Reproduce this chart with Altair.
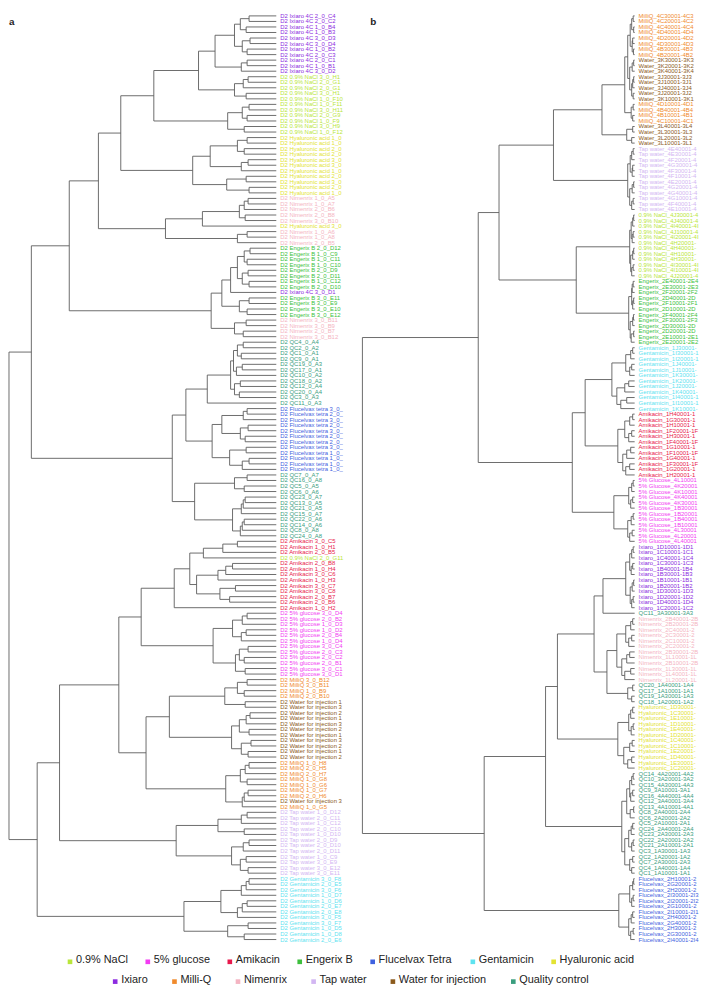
import re
import pandas as pd
import altair as alt

# ---------------- groups / colours ----------------
GROUPS = ["0.9% NaCl", "5% glucose", "Amikacin", "Engerix B", "Flucelvax Tetra",
          "Gentamicin", "Hyaluronic acid", "Ixiaro", "Milli-Q", "Nimenrix",
          "Tap water", "Water for injection", "Quality control"]
COLORS = ["#b9e63a", "#f23cf2", "#e8194c", "#3dbf3d", "#3f62e0",
          "#5ee3f0", "#e3e332", "#8c2be0", "#f08a2c", "#f4b4c2",
          "#d2b6f2", "#8b5a1c", "#3a9e7e"]
LEGEND_ROW1 = GROUPS[:7]
LEGEND_ROW2 = GROUPS[7:]

KEYWORDS = [("Tap water", "Tap water"), ("Water", "Water for injection"), ("MilliQ", "Milli-Q"),
            ("NaCl", "0.9% NaCl"), ("lucose", "5% glucose"), ("Amikacin", "Amikacin"),
            ("Engerix", "Engerix B"), ("Flucelvax", "Flucelvax Tetra"), ("Gentamicin", "Gentamicin"),
            ("Hyaluronic", "Hyaluronic acid"), ("Ixiaro", "Ixiaro"), ("Nimenrix", "Nimenrix"),
            ("QC", "Quality control")]

# ---------------- panel a : leaf labels (top to bottom) ----------------
left_labels = [
    "D2 Ixiaro 4C 2_0_C4", "D2 Ixiaro 4C 2_0_C2", "D2 Ixiaro 4C 1_0_B4", "D2 Ixiaro 4C 1_0_B3",
    "D2 Ixiaro 4C 3_0_D3", "D2 Ixiaro 4C 3_0_D4", "D2 Ixiaro 4C 1_0_B2", "D2 Ixiaro 4C 2_0_C3",
    "D2 Ixiaro 4C 2_0_C1", "D2 Ixiaro 4C 1_0_B1", "D2 Ixiaro 4C 3_0_D2",
    "D2 0.9% NaCl 3_0_H12", "D2 0.9% NaCl 2_0_G12", "D2 0.9% NaCl 2_0_G10", "D2 0.9% NaCl 3_0_H10",
    "D2 0.9% NaCl 1_0_F10", "D2 0.9% NaCl 1_0_F11", "D2 0.9% NaCl 3_0_H11", "D2 0.9% NaCl 2_0_G9",
    "D2 0.9% NaCl 1_0_F9", "D2 0.9% NaCl 3_0_H9", "D2 0.9% NaCl 1_0_F12",
    "D2 Hyaluronic acid 1_0_E1", "D2 Hyaluronic acid 1_0_E3", "D2 Hyaluronic acid 2_0_F2",
    "D2 Hyaluronic acid 2_0_F4", "D2 Hyaluronic acid 3_0_G1", "D2 Hyaluronic acid 3_0_G2",
    "D2 Hyaluronic acid 1_0_E2", "D2 Hyaluronic acid 2_0_F1", "D2 Hyaluronic acid 3_0_G4",
    "D2 Hyaluronic acid 2_0_F3", "D2 Hyaluronic acid 1_0_E4",
    "D2 Nimenrix 1_0_A5", "D2 Nimenrix 1_0_A7", "D2 Nimenrix 2_0_B6", "D2 Nimenrix 2_0_B8",
    "D2 Nimenrix 3_0_B10",
    "D2 Hyaluronic acid 3_0_G3",
    "D2 Nimenrix 1_0_A6", "D2 Nimenrix 1_0_A8", "D2 Nimenrix 2_0_B5",
    "D2 Engerix B 2_0_D12", "D2 Engerix B 1_0_C9", "D2 Engerix B 1_0_C11", "D2 Engerix B 1_0_C10",
    "D2 Engerix B 2_0_D9", "D2 Engerix B 2_0_D11", "D2 Engerix B 1_0_C12", "D2 Engerix B 2_0_D10",
    "D2 Ixiaro 4C 3_0_D1",
    "D2 Engerix B 3_0_E11", "D2 Engerix B 3_0_E9", "D2 Engerix B 3_0_E10", "D2 Engerix B 3_0_E12",
    "D2 Nimenrix 3_0_B11", "D2 Nimenrix 3_0_B9", "D2 Nimenrix 2_0_B7", "D2 Nimenrix 3_0_B12",
    "D2 QC4_0_A4", "D2 QC2_0_A2", "D2 QC1_0_A1", "D2 QC9_0_A1", "D2 QC19_0_A3", "D2 QC17_0_A1",
    "D2 QC10_0_A2", "D2 QC18_0_A2", "D2 QC12_0_A4", "D2 QC20_0_A4", "D2 QC3_0_A3", "D2 QC11_0_A3",
    "D2 Flucelvax tetra 3_0_C2", "D2 Flucelvax tetra 2_0_B3", "D2 Flucelvax tetra 3_0_C4",
    "D2 Flucelvax tetra 2_0_B1", "D2 Flucelvax tetra 3_0_C1", "D2 Flucelvax tetra 2_0_B4",
    "D2 Flucelvax tetra 2_0_B2", "D2 Flucelvax tetra 3_0_C3", "D2 Flucelvax tetra 1_0_A2",
    "D2 Flucelvax tetra 1_0_A4", "D2 Flucelvax tetra 1_0_A1", "D2 Flucelvax tetra 1_0_A3",
    "D2 QC7_0_A7", "D2 QC16_0_A8", "D2 QC5_0_A5", "D2 QC6_0_A6", "D2 QC23_0_A7", "D2 QC13_0_A5",
    "D2 QC21_0_A5", "D2 QC15_0_A7", "D2 QC22_0_A6", "D2 QC14_0_A6", "D2 QC8_0_A8", "D2 QC24_0_A8",
    "D2 Amikacin 3_0_C5", "D2 Amikacin 1_0_H1", "D2 Amikacin 2_0_B5", "D2 0.9% NaCl 2_0_G11",
    "D2 Amikacin 2_0_B8", "D2 Amikacin 1_0_H4", "D2 Amikacin 3_0_C6", "D2 Amikacin 1_0_H3",
    "D2 Amikacin 3_0_C7", "D2 Amikacin 3_0_C8", "D2 Amikacin 2_0_B7", "D2 Amikacin 2_0_B6",
    "D2 Amikacin 1_0_H2",
    "D2 5% glucose 3_0_D4", "D2 5% glucose 2_0_B2", "D2 5% glucose 1_0_D3", "D2 5% glucose 1_0_D2",
    "D2 5% glucose 2_0_B4", "D2 5% glucose 1_0_D4", "D2 5% glucose 3_0_C4", "D2 5% glucose 2_0_C3",
    "D2 5% glucose 2_0_C2", "D2 5% glucose 2_0_B1", "D2 5% glucose 3_0_C1", "D2 5% glucose 3_0_D1",
    "D2 MilliQ 3_0_B12", "D2 MilliQ 3_0_B11", "D2 MilliQ 1_0_B9", "D2 MilliQ 2_0_B10",
    "D2 Water for injection 1", "D2 Water for injection 3",
    "D2 Water for injection 2", "D2 Water for injection 1", "D2 Water for injection 3",
    "D2 Water for injection 2", "D2 Water for injection 1", "D2 Water for injection 3",
    "D2 Water for injection 2", "D2 Water for injection 1", "D2 Water for injection 2",
    "D2 MilliQ 1_0_H8", "D2 MilliQ 2_0_H5", "D2 MilliQ 2_0_H7", "D2 MilliQ 1_0_G8",
    "D2 MilliQ 1_0_G6", "D2 MilliQ 1_0_G7", "D2 MilliQ 2_0_H6", "D2 Water for injection 3",
    "D2 MilliQ 1_0_G5",
    "D2 Tap water 1_0_D12", "D2 Tap water 2_0_C11", "D2 Tap water 1_0_C12", "D2 Tap water 2_0_C10",
    "D2 Tap water 1_0_D10", "D2 Tap water 2_0_D9", "D2 Tap water 2_0_D10", "D2 Tap water 2_0_D11",
    "D2 Tap water 1_0_C9", "D2 Tap water 3_0_E9", "D2 Tap water 3_0_E12", "D2 Tap water 3_0_E11",
    "D2 Gentamicin 3_0_F8", "D2 Gentamicin 2_0_E5", "D2 Gentamicin 3_0_F6", "D2 Gentamicin 1_0_D7",
    "D2 Gentamicin 1_0_D6", "D2 Gentamicin 2_0_E7", "D2 Gentamicin 2_0_E8", "D2 Gentamicin 3_0_F5",
    "D2 Gentamicin 3_0_F7", "D2 Gentamicin 1_0_D5", "D2 Gentamicin 1_0_D8", "D2 Gentamicin 2_0_E6",
]

# panel a merge heights (leaves "." in label order, "(...)h" = merge at height h)
a_ix = "((((.,.)28,(.,.)31)37,((.,.)27,(.,.)30)35)43,((.,.)30,.)36)63"
a_nacl1 = "(((.,.)29,.)34,(.,.)31)43"
a_nacl2 = "(((.,.)28,(.,.)30)35,(.,.)33)50"
a_hya = "((((.,.)30,(.,.)33)40,((.,.)29,.)36)68,((.,.)31,(.,.)28)51)86"
a_nimtop = "(((((.,.)29,.)33,(.,.)32)38,.)76,((.,.)30,.)40)114"
a_eng = "(((((.,.)27,(.,.)30)33,((.,.)29,(.,.)28)35)40,.)47,((.,.)28,(.,.)30)38)56"
a_nim2 = "((.,.)31,(.,.)34)43"
a_qc1 = "(((((.,.)34,(.,.)36)40,((.,.)35,.)41)44,((.,.)37,(.,.)38)43)47,.)71"
a_flu = "((((.,.)30,.)34,((.,.)29,(.,.)32)37)56,((.,.)31,((.,.)28,.)35)48)66"
a_qc2 = "(((.,.)30,(.,.)33)43,((((.,.)32,.)34,.)36,(((.,.)33,.)35,.)37)45)84"
a_ami = "(((((.,.)40,.)55,.)75,((((.,.)45,.)52,.)60,((.,.)42,(.,.)48)58)82)89,.)105"
a_glu = "((((.,.)30,.)35,((.,.)31,.)36)45,(((.,.)29,(.,.)33)38,(.,.)32)42)65"
a_mw = "(((.,.)30,(.,.)33)40,(.,.)32)53"
a_wfi = "((((.,.)27,.)31,(.,.)28)38,((.,.)26,(.,.)29)36)46"
a_mq = "((((.,.)28,.)32,(.,.)30)37,(((.,.)29,.)33,.)35)52"
a_tap = "((((.,.)30,.)36,(.,.)33)60,(((.,.)28,.)34,((.,.)31,(.,.)29)37)46)103"
a_gen = "(((((.,.)28,.)31,.)36,(((.,.)30,.)35,.)40)57,((.,.)29,(.,.)33)50)95"


def join(h, *kids):
    return "(" + ",".join(kids) + ")" + str(h)


left_tree = join(275,
    join(252,
        join(213,
            join(183,
                join(160, join(126, join(80, a_ix, a_nacl1), a_nacl2), a_hya),
                a_nimtop),
            join(67, a_eng, a_nim2)),
        join(107, join(93, a_qc1, a_flu), a_qc2)),
    join(246,
        join(223,
            join(162, join(139, a_ami, a_glu), join(134, join(110, a_mw, a_wfi), a_mq)),
            a_tap),
        a_gen))

# ---------------- panel b : leaf labels ----------------
right_labels = [
    "MilliQ_4C30001-4C3", "MilliQ_4C20001-4C2", "MilliQ_4C40001-4C4", "MilliQ_4D40001-4D4",
    "MilliQ_4D20001-4D2", "MilliQ_4D30001-4D3", "MilliQ_4B30001-4B3", "MilliQ_4B20001-4B2",
    "Water_3K30001-3K3", "Water_3K20001-3K2", "Water_3K40001-3K4", "Water_3J30001-3J3",
    "Water_3J10001-3J1", "Water_3J40001-3J4", "Water_3J20001-3J2", "Water_3K10001-3K1",
    "MilliQ_4D10001-4D1", "MilliQ_4B40001-4B4", "MilliQ_4B10001-4B1", "MilliQ_4C10001-4C1",
    "Water_3L40001-3L4", "Water_3L30001-3L3", "Water_3L20001-3L2", "Water_3L10001-3L1",
    "Tap water_4E40001-4E4", "Tap water_4E30001-4E3", "Tap water_4F20001-4F2", "Tap water_4G30001-4G3",
    "Tap water_4F30001-4F3", "Tap water_4F10001-4F1", "Tap water_4E20001-4E2", "Tap water_4G20001-4G2",
    "Tap water_4G40001-4G4", "Tap water_4G10001-4G1", "Tap water_4F40001-4F4", "Tap water_4E10001-4E1",
    "0.9% NaCl_4J30001-4J3", "0.9% NaCl_4J40001-4J4", "0.9% NaCl_4I40001-4I4", "0.9% NaCl_4J10001-4J1",
    "0.9% NaCl_4I20001-4I2", "0.9% NaCl_4H20001-4H2", "0.9% NaCl_4H40001-4H4", "0.9% NaCl_4H10001-4H1",
    "0.9% NaCl_4H30001-4H3", "0.9% NaCl_4I30001-4I3", "0.9% NaCl_4I10001-4I1", "0.9% NaCl_4J20001-4J2",
    "Engerix_2E40001-2E4", "Engerix_2E30001-2E3", "Engerix_2F20001-2F2", "Engerix_2D40001-2D4",
    "Engerix_2F10001-2F1", "Engerix_2D10001-2D1", "Engerix_2F40001-2F4", "Engerix_2F30001-2F3",
    "Engerix_2D30001-2D3", "Engerix_2D20001-2D2", "Engerix_2E10001-2E1", "Engerix_2E20001-2E2",
    "Gentamicin_1J30001-1J3", "Gentamicin_1I30001-1I3", "Gentamicin_1I20001-1I2", "Gentamicin_1J40001-1J4",
    "Gentamicin_1J10001-1J1", "Gentamicin_1K30001-1K3", "Gentamicin_1K20001-1K2", "Gentamicin_1J20001-1J2",
    "Gentamicin_1K40001-1K4", "Gentamicin_1I40001-1I4", "Gentamicin_1I10001-1I1", "Gentamicin_1K10001-1K1",
    "Amikacin_1H40001-1H4", "Amikacin_1G30001-1G3", "Amikacin_1H10001-1H1", "Amikacin_1F20001-1F2",
    "Amikacin_1H30001-1H3", "Amikacin_1F40001-1F4", "Amikacin_1G10001-1G1", "Amikacin_1F10001-1F1",
    "Amikacin_1G40001-1G4", "Amikacin_1F30001-1F3", "Amikacin_1G20001-1G2", "Amikacin_1H20001-1H2",
    "5% Glucose_4L10001-4L1", "5% Glucose_4K20001-4K2", "5% Glucose_4K10001-4K1", "5% Glucose_4K40001-4K4",
    "5% Glucose_4K30001-4K3", "5% Glucose_1B30001-1B3", "5% Glucose_1B20001-1B2", "5% Glucose_1B40001-1B4",
    "5% Glucose_1B10001-1B1", "5% Glucose_4L30001-4L3", "5% Glucose_4L20001-4L2", "5% Glucose_4L40001-4L4",
    "Ixiaro_1D10001-1D1", "Ixiaro_1C10001-1C1", "Ixiaro_1C40001-1C4", "Ixiaro_1C30001-1C3",
    "Ixiaro_1B40001-1B4", "Ixiaro_1B30001-1B3", "Ixiaro_1B10001-1B1", "Ixiaro_1B20001-1B2",
    "Ixiaro_1D30001-1D3", "Ixiaro_1D20001-1D2", "Ixiaro_1D40001-1D4", "Ixiaro_1C20001-1C2",
    "QC11_3A30001-3A3",
    "Nimenrix_2B40001-2B4", "Nimenrix_2B20001-2B2", "Nimenrix_2C40001-2C4", "Nimenrix_2C30001-2C3",
    "Nimenrix_2C10001-2C1", "Nimenrix_2C20001-2C2", "Nimenrix_2B30001-2B3", "Nimenrix_1L10001-1L1",
    "Nimenrix_2B10001-2B1", "Nimenrix_1L30001-1L3", "Nimenrix_1L40001-1L4", "Nimenrix_1L20001-1L2",
    "QC20_1A40001-1A4", "QC17_1A10001-1A1", "QC19_1A30001-1A3", "QC18_1A20001-1A2",
    "Hyaluronic_1D30001-1D3", "Hyaluronic_1C30001-1C3", "Hyaluronic_1E10001-1E1", "Hyaluronic_1D10001-1D1",
    "Hyaluronic_1E40001-1E4", "Hyaluronic_1D20001-1D2", "Hyaluronic_1C40001-1C4", "Hyaluronic_1C10001-1C1",
    "Hyaluronic_1E20001-1E2", "Hyaluronic_1D40001-1D4", "Hyaluronic_1E30001-1E3", "Hyaluronic_1C20001-1C2",
    "QC14_4A20001-4A2", "QC10_3A20001-3A2", "QC15_4A30001-4A3", "QC9_3A10001-3A1", "QC16_4A40001-4A4",
    "QC12_3A40001-3A4", "QC13_4A10001-4A1", "QC8_2A40001-2A4", "QC6_2A20001-2A2", "QC5_2A10001-2A1",
    "QC24_2A40001-2A4", "QC23_2A30001-2A3", "QC22_2A20001-2A2", "QC21_2A10001-2A1", "QC3_1A30001-1A3",
    "QC2_1A20001-1A2", "QC7_2A30001-2A3", "QC4_1A40001-1A4", "QC1_1A10001-1A1",
    "Flucelvax_2H10001-2H1", "Flucelvax_2G20001-2G2", "Flucelvax_2H20001-2H2", "Flucelvax_2I30001-2I3",
    "Flucelvax_2I20001-2I2", "Flucelvax_2G10001-2G1", "Flucelvax_2I10001-2I1", "Flucelvax_2H40001-2H4",
    "Flucelvax_2G40001-2G4", "Flucelvax_2H30001-2H3", "Flucelvax_2G30001-2G3", "Flucelvax_2I40001-2I4",
]

b_mq8 = "(((.,.)1.5,(.,.)1)3,((.,.)2,(.,.)1.2)2.5)4.5"
b_w8 = "(((.,.)1,.)2.5,(((.,.)1,.)2,(.,.)1.5)3)5"
b_mq4 = "((.,.)1.5,(.,.)2)3.5"
b_w4 = "((.,.)2,(.,.)3)8"
b_tap = "((((.,.)1.5,.)3,((.,.)2,.)2.5)4.5,(((.,.)1,.)2.5,((.,.)1.5,.)3)5)7"
b_nacl = "((((.,.)1,.)2,((.,.)1.5,.)2.5)3.5,(((.,.)1,.)2,((.,.)1.5,.)3)4)5"
b_eng = "((((.,.)1.5,.)2.5,((.,.)1,.)2)3,(((.,.)1.2,.)2,((.,.)1,.)3.5)4.5)6"
b_gen = "((((.,.)2,.)4,((.,.)3,.)5)9,(((.,.)6,.)10,((.,.)8,.)14)18)23"
b_ami = "((((.,.)2,.)5,((.,.)3,.)6)10,(((.,.)4,.)8,((.,.)5,.)9)12)17"
b_glu = "((((.,.)1.5,.)3,((.,.)2,.)4)6,(((.,.)1.5,.)3.5,((.,.)2.5,.)5)7)21"
b_ix = "((((.,.)1.5,.)3,((.,.)2,.)3.5)5,(((.,.)1,.)2.5,((.,.)1.5,.)3)4.5)9"
b_nim = "((((.,.)2,.)4,((.,.)3,.)6)9,(((.,.)5,.)8,((.,.)4,.)10)13)18"
b_qc4 = "((.,.)2,(.,.)3)7"
b_hya = "((((.,.)2,.)4,((.,.)1.5,.)3.5)6,(((.,.)2.5,.)5,((.,.)3,.)7)11)17"
b_qc19 = ("(((((.,.)1.5,.)3,((.,.)2,.)4)5,((.,.)1,.)4.5)8,"
          "((((.,.)2,.)3.5,((.,.)1.5,.)3)6,((.,.)2,(.,.)3)5)10)13")
b_flu = "((((.,.)1,.)2,((.,.)1.5,.)3)5,(((.,.)2,.)3.5,((.,.)1.5,.)4)6)16"

right_tree = join(275,
    join(158,
        join(137,
            join(82, join(33, join(10, join(7, b_mq8, b_w8), b_mq4), b_w4), b_tap),
            join(59, b_nacl, b_eng)),
        join(63, join(50, b_gen, b_ami), b_glu)),
    join(152,
        join(90,
            join(78, join(41, join(32, b_ix, "."), join(28, b_nim, b_qc4)), b_hya),
            b_qc19),
        b_flu))


# ---------------- helpers ----------------
def parse_tree(s):
    s = s.replace(" ", "")
    state = {"pos": 0, "leaf": 0}

    def node():
        p = state["pos"]
        if s[p] == ".":
            state["pos"] += 1
            i = state["leaf"]
            state["leaf"] += 1
            return {"h": 0.0, "y": float(i), "kids": []}
        state["pos"] += 1
        kids = [node()]
        while s[state["pos"]] == ",":
            state["pos"] += 1
            kids.append(node())
        state["pos"] += 1  # ")"
        m = re.match(r"[0-9.]+", s[state["pos"]:])
        state["pos"] += len(m.group())
        return {"h": float(m.group()), "y": (kids[0]["y"] + kids[-1]["y"]) / 2, "kids": kids}

    root = node()
    return root, state["leaf"]


def segments(nd, out):
    if not nd["kids"]:
        return out
    ys = [k["y"] for k in nd["kids"]]
    out.append((nd["h"], nd["h"], min(ys), max(ys)))
    for k in nd["kids"]:
        out.append((nd["h"], k["h"], k["y"], k["y"]))
        segments(k, out)
    return out


def group_of(label):
    for key, grp in KEYWORDS:
        if key in label:
            return grp
    return "Quality control"


cscale = alt.Scale(domain=GROUPS, range=COLORS)
N_ROWS = 168
PANEL_H = 937
ROW_PAD = 0.358
TOP_H = 275


def panel(tree, labels, width, tag, tag_x, limit):
    root, n = parse_tree(tree)
    if n != len(labels):
        print("leaf count mismatch", n, len(labels))
    seg_df = pd.DataFrame(segments(root, []), columns=["x", "x2", "y", "y2"])
    lab_df = pd.DataFrame({"label": labels, "row": list(range(len(labels))), "h": [0.0] * len(labels),
                           "group": [group_of(l) for l in labels]})
    xs = alt.Scale(domain=[TOP_H, 0], nice=False, zero=False)
    ys = alt.Scale(domain=[-ROW_PAD, N_ROWS - 1 + ROW_PAD], nice=False, zero=False, reverse=True)
    rules = alt.Chart(seg_df).mark_rule(color="#5c5c5c", strokeWidth=0.9).encode(
        x=alt.X("x:Q", scale=xs, axis=None), x2="x2:Q",
        y=alt.Y("y:Q", scale=ys, axis=None), y2="y2:Q")
    texts = alt.Chart(lab_df).mark_text(
        align="left", baseline="middle", fontSize=6, font="Liberation Sans", dx=4,
        limit=limit, ellipsis="\u200b").encode(
        x=alt.X("h:Q", scale=xs, axis=None),
        y=alt.Y("row:Q", scale=ys, axis=None),
        text="label:N",
        color=alt.Color("group:N", scale=cscale, legend=None))
    tag_layer = alt.Chart(pd.DataFrame({"t": [tag]})).mark_text(
        align="left", baseline="middle", fontSize=10, fontWeight="bold",
        font="Liberation Sans", color="#222").encode(
        text="t:N", x=alt.value(tag_x), y=alt.value(8))
    return alt.layer(rules, texts, tag_layer).properties(width=width, height=PANEL_H)


left = panel(left_tree, left_labels, 270, "a", 0, 64)
right = panel(right_tree, right_labels, 275, "b", 8, 61)

# ---------------- legend (laid out from estimated text widths) ----------------
LEG_W = 691
LEG_FS = 11
LEG_GAPS = [18, 25]
CHAR_W = {".": 278, "%": 889, " ": 278, "N": 722, "C": 722, "l": 222, "c": 500, "s": 500,
          "A": 667, "m": 833, "i": 222, "k": 500, "E": 667, "r": 333, "x": 500, "B": 667,
          "F": 611, "v": 500, "T": 611, "t": 278, "y": 500, "I": 278, "M": 833, "-": 333,
          "Q": 778, "W": 944, "f": 278, "j": 222, "G": 778, "H": 722}


def text_w(t):
    return sum(CHAR_W.get(ch, 556) for ch in t) / 1000.0 * LEG_FS


def legend_rows():
    rows = []
    for ri, items in enumerate([LEGEND_ROW1, LEGEND_ROW2]):
        widths = [8 + text_w(t) for t in items]
        gap = LEG_GAPS[ri]
        total = sum(widths) + gap * (len(items) - 1)
        x = (LEG_W - total) / 2
        for t, w in zip(items, widths):
            rows.append({"lx": x + 2, "ly": 18 + ri * 20, "label": t, "group": t})
            x += w + gap
    return pd.DataFrame(rows)


leg_df = legend_rows()
leg_sq = alt.Chart(leg_df).mark_square(size=22, opacity=1, yOffset=1.5).encode(
    x=alt.X("lx:Q", scale=None, axis=None), y=alt.Y("ly:Q", scale=None, axis=None),
    color=alt.Color("group:N", scale=cscale, legend=None))
leg_tx = alt.Chart(leg_df).mark_text(align="left", baseline="middle", dx=6, dy=-0.5, fontSize=LEG_FS,
                                     font="Liberation Sans", color="#222").encode(
    x=alt.X("lx:Q", scale=None, axis=None), y=alt.Y("ly:Q", scale=None, axis=None), text="label:N")
legend = alt.layer(leg_sq, leg_tx).properties(width=LEG_W, height=42)

top = alt.hconcat(left, right, spacing=87, bounds="flush")
chart = alt.vconcat(top, legend, spacing=0).properties(padding=0).configure_view(stroke=None)

chart.save("out.html", embed_options={"renderer": "svg", "actions": False})
